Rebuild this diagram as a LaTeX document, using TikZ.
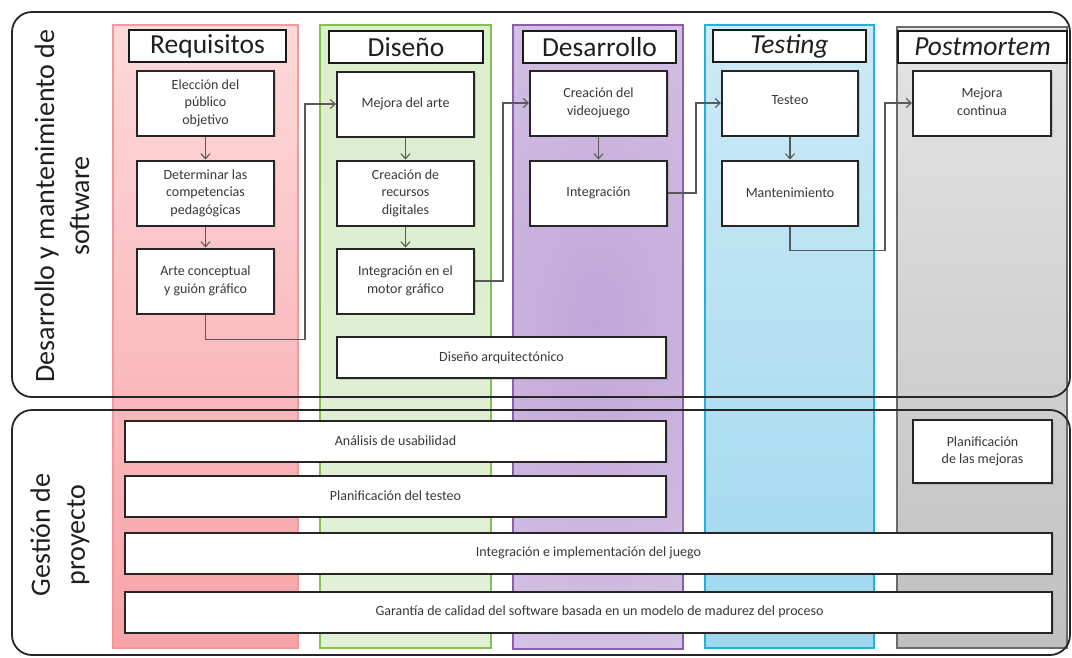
\documentclass[tikz,border=0pt]{standalone}
\usepackage{fontspec}
\setmainfont{Carlito}
\usetikzlibrary{arrows.meta,shadows}

% column colours
\definecolor{redTop}{HTML}{FDD9DA}
\definecolor{redBot}{HTML}{F8A3A8}
\definecolor{redEdge}{HTML}{F09A9E}
\definecolor{grnTop}{HTML}{DBEECD}
\definecolor{grnMid}{HTML}{C6E3A8}
\definecolor{grnBot}{HTML}{E2F0D7}
\definecolor{grnEdge}{HTML}{86C050}
\definecolor{purLight}{HTML}{DED3EB}
\definecolor{purDark}{HTML}{C2A5D8}
\definecolor{purEdge}{HTML}{8C5FAE}
\definecolor{bluTop}{HTML}{CDEAF6}
\definecolor{bluBot}{HTML}{9ED8EE}
\definecolor{bluEdge}{HTML}{22B2D4}
\definecolor{gryTop}{HTML}{E4E4E4}
\definecolor{gryBot}{HTML}{C0C0C0}
\definecolor{gryEdge}{HTML}{6A6A6A}

\begin{document}
\begin{tikzpicture}[x=1pt,y=-1pt,
  frame/.style={draw=black!85,line width=1.8pt,rounded corners=20pt},
  coledge/.style={line width=1.8pt},
  box/.style={draw=black!85,line width=2pt,fill=white,align=center,
    text=black!78,inner sep=2pt,
    font=\fontsize{14}{17.5}\selectfont,
    drop shadow={shadow xshift=1.5pt,shadow yshift=-1.5pt,opacity=.3}},
  colbox/.style={box,minimum width=137,minimum height=65},
  wide/.style={box,minimum height=41},
  head/.style={draw=black!90,line width=2.6pt,fill=white,text=black!88,
    minimum height=32,inner sep=0pt,
    font=\fontsize{27.5}{30}\selectfont},
  side/.style={align=center,text=black!88,font=\fontsize{28}{35}\selectfont},
  conn/.style={draw=black!65,line width=1.1pt,
    -{Straight Barb[length=5pt,width=9pt]}},
]
\useasboundingbox (0,0) rectangle (1072,657);

% ---- phase columns ----
\shade[top color=redTop,bottom color=redBot] (113,25) rectangle (298,648);
\draw[coledge,draw=redEdge] (113,25) rectangle (298,648);

\shade[top color=grnTop,middle color=grnMid,bottom color=grnBot] (320,25) rectangle (491,648);
\draw[coledge,draw=grnEdge] (320,25) rectangle (491,648);

\fill[purLight] (513,25) rectangle (683,649);
\begin{scope}
  \clip (513,25) rectangle (683,649);
  \shade[inner color=purDark,outer color=purLight] (598,320) ellipse (330 and 560);
\end{scope}
\draw[coledge,draw=purEdge] (513,25) rectangle (683,649);

\shade[top color=bluTop,bottom color=bluBot] (705,25) rectangle (874,648);
\draw[coledge,draw=bluEdge] (705,25) rectangle (874,648);

\shade[top color=gryTop,bottom color=gryBot] (897,27) rectangle (1067,648);
\draw[coledge,draw=gryEdge,line width=1.5pt] (897,27) rectangle (1067,648);

% ---- area frames ----
\draw[frame] (12,12) rectangle (1070,397);
\draw[frame] (12,410) rectangle (1070,655);

\node[side,rotate=90] (lblsw) at (62,206) {Desarrollo y mantenimiento de\\software};
\node[side,rotate=90] (lblgp) at (60,535) {Gestión de\\proyecto};

% ---- column headers ----
\node[head,minimum width=157] (hreq) at (207.5,46) {Requisitos};
\node[head,minimum width=154] (hdis) at (406,47) {Diseño};
\node[head,minimum width=153] (hdes) at (599.5,47) {Desarrollo};
\node[head,minimum width=153] (htes) at (789.5,46) {\itshape Testing};
\node[head,minimum width=169] (hpos) at (982.5,47) {\itshape Postmortem};

% ---- requisitos ----
\node[colbox] (b1) at (205.5,103) {Elección del\\público\\objetivo};
\node[colbox] (b2) at (205.5,193) {Determinar las\\competencias\\pedagógicas};
\node[colbox] (b3) at (205.5,281) {Arte conceptual\\y guión gráfico};

% ---- diseño ----
\node[colbox] (d1) at (405.5,104) {Mejora del arte};
\node[colbox] (d2) at (405.5,193) {Creación de\\recursos\\digitales};
\node[colbox] (d3) at (405.5,281) {Integración en el\\motor gráfico};
\node[wide,minimum width=329] (darq) at (501.5,357.5) {Diseño arquitectónico};

% ---- desarrollo ----
\node[colbox] (p1) at (598.5,103) {Creación del\\videojuego};
\node[colbox] (p2) at (598.5,193) {Integración};

% ---- testing ----
\node[colbox,minimum width=136] (t1) at (790,103) {\raisebox{6pt}{Testeo}};
\node[colbox,minimum width=136] (t2) at (790,193) {Mantenimiento};

% ---- postmortem ----
\node[colbox,minimum width=138] (m1) at (982,103) {\raisebox{3pt}{Mejora}\\\raisebox{3pt}{continua}};

% ---- gestión de proyecto ----
\node[wide,minimum width=541] (g1) at (395.5,441) {Análisis de usabilidad};
\node[wide,minimum width=541] (g2) at (395.5,496) {Planificación del testeo};
\node[wide,minimum width=927] (g3) at (588.5,553) {Integración e implementación del juego};
\node[wide,minimum width=927] (g4) at (588.5,612) {\hspace*{22pt}Garantía de calidad del software basada en un modelo de madurez del proceso};
\node[box,minimum width=139,minimum height=63] (g5) at (982.5,451.5) {Planificación\\de las mejoras};

% ---- flow inside columns ----
\draw[conn] (b1.south) -- (b2.north);
\draw[conn] (b2.south) -- (b3.north);
\draw[conn] (d1.south) -- (d2.north);
\draw[conn] (d2.south) -- (d3.north);
\draw[conn] (p1.south) -- (p2.north);
\draw[conn] (t1.south) -- (t2.north);

% ---- flow between columns ----
\draw[conn] (b3.south) -- ++(0,25) -| ([xshift=-31pt]d1.west) -- (d1.west);
\draw[conn] (d3.east) -- ++(28,0) |- (p1.west);
\draw[conn] (p2.east) -- ++(28,0) |- (t1.west);
\draw[conn] (t2.south) -- ++(0,24) -| ([xshift=-27pt]m1.west) -- (m1.west);
\end{tikzpicture}
\end{document}
